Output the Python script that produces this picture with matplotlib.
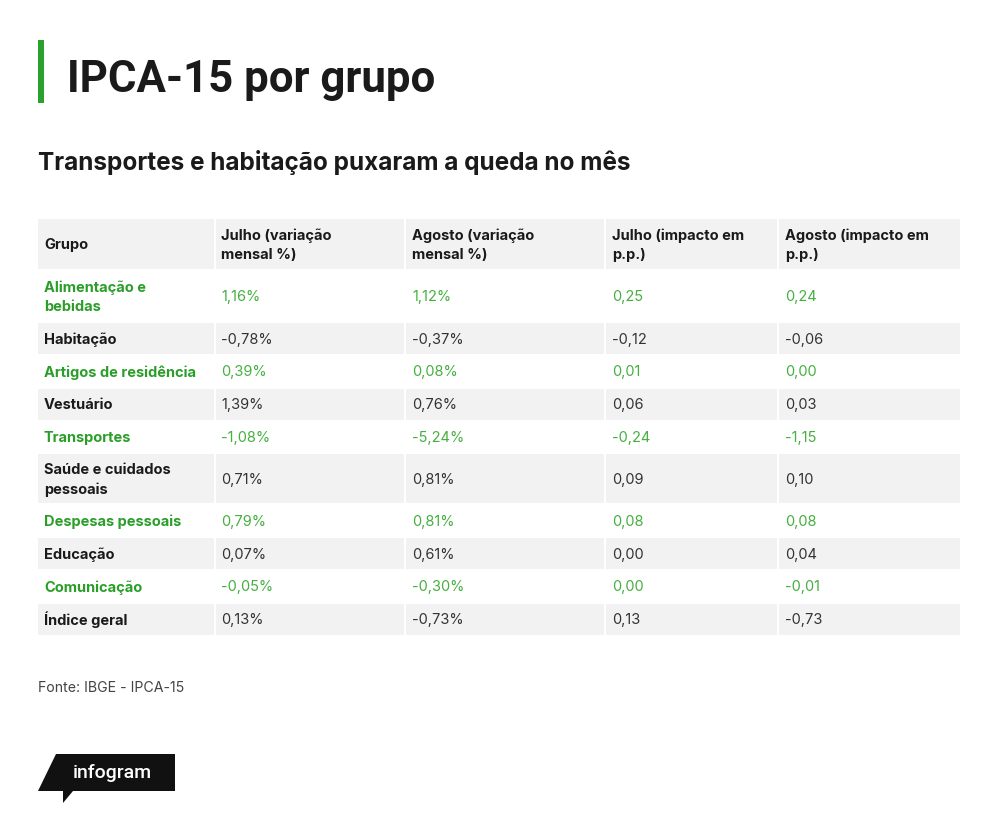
import matplotlib
matplotlib.use("Agg")
import matplotlib.pyplot as plt
from matplotlib.patches import Rectangle, Polygon

plt.rcParams['font.family'] = ['Inter', 'DejaVu Sans']

title = "IPCA-15 por grupo"
subtitle = "Transportes e habitação puxaram a queda no mês"
source = "Fonte: IBGE - IPCA-15"

headers = ["Grupo", "Julho (variação\nmensal %)", "Agosto (variação\nmensal %)",
           "Julho (impacto em\np.p.)", "Agosto (impacto em\np.p.)"]
groups = ["Alimentação e\nbebidas", "Habitação", "Artigos de residência", "Vestuário",
          "Transportes", "Saúde e cuidados\npessoais", "Despesas pessoais", "Educação",
          "Comunicação", "Índice geral"]
jul_var = ["1,16%", "-0,78%", "0,39%", "1,39%", "-1,08%", "0,71%", "0,79%", "0,07%", "-0,05%", "0,13%"]
ago_var = ["1,12%", "-0,37%", "0,08%", "0,76%", "-5,24%", "0,81%", "0,81%", "0,61%", "-0,30%", "-0,73%"]
jul_imp = ["0,25", "-0,12", "0,01", "0,06", "-0,24", "0,09", "0,08", "0,00", "0,00", "0,13"]
ago_imp = ["0,24", "-0,06", "0,00", "0,03", "-1,15", "0,10", "0,08", "0,04", "-0,01", "-0,73"]

GREEN = "#2a9e28"
GREEN_LIGHT = "#45b03f"
DARK = "#1a1a1a"
GRAY_BG = "#f2f2f2"

fig = plt.figure(figsize=(10, 8.23), dpi=100)
ax = fig.add_axes([0, 0, 1, 1])
ax.set_xlim(0, 1000)
ax.set_ylim(823, 0)
ax.axis('off')

# title block
ax.add_patch(Rectangle((38, 40), 6, 63, color="#2ca02c", lw=0))
ax.text(67, 92, title, fontsize=31.5, fontweight='bold', color=DARK, va='baseline',
        family=['Roboto', 'DejaVu Sans'])
ax.text(38, 170, subtitle, fontsize=17.5, fontweight='bold', color=DARK, va='baseline')

# table geometry
col_edges = [38, 214, 404, 604, 777, 960]
text_pad = [6, 7, 8, 8, 8]
row_h = [52, 52, 32.8, 32.8, 32.8, 32.8, 51, 32.8, 32.8, 32.8, 32.8]
gap = 1.8
y = 219

columns = [groups, jul_var, ago_var, jul_imp, ago_imp]
for r in range(len(groups) + 1):
    h = row_h[r]
    shade = (r % 2 == 0)
    for c in range(5):
        x0, x1 = col_edges[c], col_edges[c + 1]
        if shade:
            left = x0 + (gap if c > 0 else 0)
            ax.add_patch(Rectangle((left, y), x1 - left, h - gap, color=GRAY_BG, lw=0))
        if r == 0:
            txt = headers[c]
            color = DARK
            weight = 'bold'
        else:
            txt = columns[c][r - 1]
            green = (r % 2 == 1)
            if c == 0:
                color = GREEN if green else DARK
                weight = 'bold'
            else:
                color = GREEN_LIGHT if green else "#333333"
                weight = 'normal'
        ax.text(x0 + text_pad[c], y + (h - gap) / 2 + 1, txt, fontsize=10.5, fontweight=weight,
                color=color, va='center', ha='left', linespacing=1.45)
    y += h

ax.text(38, 692, source, fontsize=10.2, color="#444444", va='baseline')

# infogram badge
ax.add_patch(Polygon([(56, 754), (175, 754), (175, 791), (73, 791), (63, 803),
                      (63, 791), (38, 791)], closed=True, color="#111111", lw=0))
ax.text(112, 773, "infogram", fontsize=14, color="white", ha='center', va='center',
        family=['Roboto', 'DejaVu Sans'], fontweight='medium')

fig.savefig("out.png", dpi=100, facecolor="white")
